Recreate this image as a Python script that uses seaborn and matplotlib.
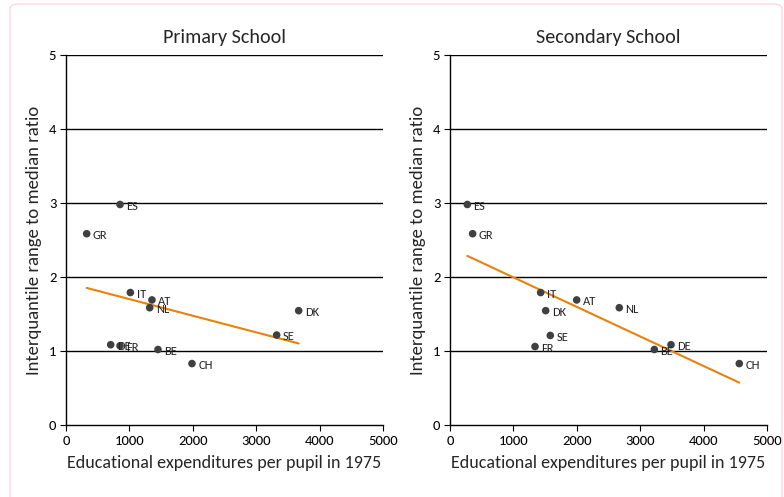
import matplotlib
matplotlib.use("Agg")
import matplotlib.pyplot as plt
import seaborn as sns
import pandas as pd
from matplotlib.patches import FancyBboxPatch

sns.set_style("white")
plt.rcParams['font.family'] = ['Carlito', 'Liberation Sans Narrow', 'Lato', 'DejaVu Sans']

# Primary school
prim_countries = ["ES", "GR", "IT", "AT", "NL", "DK", "SE", "DE", "FR", "BE", "CH"]
prim_exp = [852, 326, 1015, 1356, 1320, 3670, 3323, 705, 852, 1451, 1987]
prim_ratio = [2.98, 2.585, 1.79, 1.69, 1.585, 1.545, 1.216, 1.085, 1.07, 1.02, 0.83]

# Secondary school
sec_countries = ["ES", "GR", "IT", "AT", "NL", "DK", "SE", "FR", "BE", "DE", "CH"]
sec_exp = [273, 357, 1430, 1998, 2670, 1509, 1582, 1341, 3223, 3486, 4563]
sec_ratio = [2.98, 2.585, 1.79, 1.69, 1.585, 1.545, 1.21, 1.06, 1.02, 1.085, 0.83]

titles = ["Primary School", "Secondary School"]
xlabel = "Educational expenditures per pupil in 1975"
ylabel = "Interquantile range to median ratio"
xticks = [0, 1000, 2000, 3000, 4000, 5000]
yticks = [0, 1, 2, 3, 4, 5]

fig = plt.figure(figsize=(7.84, 4.97), dpi=100)
ax1 = fig.add_axes([66/784, 1-425/497, 317/784, 370/497])
ax2 = fig.add_axes([450/784, 1-425/497, 317/784, 370/497])

datasets = [(prim_countries, prim_exp, prim_ratio), (sec_countries, sec_exp, sec_ratio)]
for ax, title, (cs, xs, ys) in zip([ax1, ax2], titles, datasets):
    df = pd.DataFrame({"x": xs, "y": ys, "c": cs})
    for yv in yticks[1:]:
        ax.axhline(yv, color="black", lw=1.0, zorder=1)
    sns.regplot(data=df, x="x", y="y", ax=ax, scatter=False, ci=None,
                line_kws=dict(color="#E8820C", lw=1.5, zorder=2))
    sns.scatterplot(data=df, x="x", y="y", ax=ax, color="#404040", s=30,
                    edgecolor="none", zorder=3)
    for c, xv, yv in zip(cs, xs, ys):
        ax.annotate(c, (xv, yv), xytext=(4.5, -1.3), textcoords="offset points",
                    fontsize=9, color="#222222", va="center", ha="left", zorder=4)
    ax.set_xlim(0, 5000)
    ax.set_ylim(0, 5)
    ax.set_xticks(xticks)
    ax.set_yticks(yticks)
    ax.tick_params(axis="both", direction="out", length=4, width=0.8,
                   labelsize=10.5, colors="black", left=True, bottom=True, pad=3)
    for s in ["top", "right"]:
        ax.spines[s].set_visible(False)
    for s in ["left", "bottom"]:
        ax.spines[s].set_color("black")
        ax.spines[s].set_linewidth(1.0)
    ax.set_xlabel(xlabel, fontsize=13, labelpad=6)
    ax.set_ylabel(ylabel, fontsize=13.5, labelpad=5)
    ax.set_title(title, fontsize=14.5, pad=9)

border = FancyBboxPatch((10/784, -0.02), 772/784, 1 - 4/497 + 0.02,
                        boxstyle="round,pad=0,rounding_size=0.01",
                        transform=fig.transFigure, facecolor="none",
                        edgecolor="#F7D0D5", lw=0.8, zorder=0)
fig.patches.append(border)

fig.savefig("out.png", dpi=100)
